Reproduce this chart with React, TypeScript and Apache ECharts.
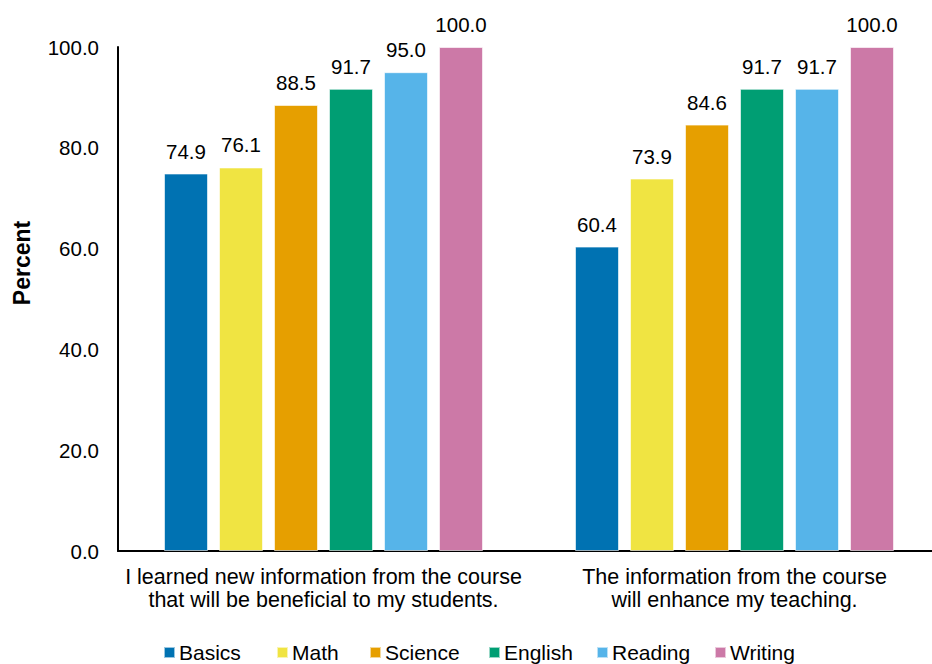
import React, { useEffect, useRef } from "react";
import * as echarts from "echarts";

const categories = [
  "I learned new information from the course\nthat will be beneficial to my students.",
  "The information from the course\nwill enhance my teaching.",
];
const seriesNames = ["Basics", "Math", "Science", "English", "Reading", "Writing"];
const basics = [74.9, 60.4];
const math = [76.1, 73.9];
const science = [88.5, 84.6];
const english = [91.7, 91.7];
const reading = [95.0, 91.7];
const writing = [100.0, 100.0];
const colors = ["#0072B2", "#F0E442", "#E69F00", "#009E73", "#56B4E9", "#CC79A7"];
const yTicks = { min: 0, max: 100, interval: 20 };
const legendLefts = [163, 276, 369, 488, 596, 714];

export default function App() {
  const ref = useRef<HTMLDivElement>(null);
  useEffect(() => {
    if (!ref.current) return;
    const chart = echarts.init(ref.current, undefined, { renderer: "svg" });
    const values = [basics, math, science, english, reading, writing];
    const font = "Arial, 'Liberation Sans', sans-serif";
    chart.setOption({
      animation: false,
      textStyle: { fontFamily: font },
      grid: { left: 118, top: 47, width: 822, height: 504, containLabel: false },
      legend: seriesNames.map((name, i) => ({
        data: [name],
        left: legendLefts[i],
        top: 642,
        padding: 0,
        itemWidth: 11,
        itemHeight: 11,
        itemGap: 0,
        icon: "rect",
        textStyle: { fontSize: 21, color: "#000", fontFamily: font, padding: [0, 0, 0, -1] },
      })),
      xAxis: {
        type: "category",
        data: categories,
        axisLine: { lineStyle: { color: "#000", width: 2 } },
        axisTick: { show: false },
        axisLabel: {
          color: "#000",
          fontSize: 21.5,
          lineHeight: 23,
          margin: 14,
          fontFamily: font,
          interval: 0,
        },
      },
      yAxis: {
        type: "value",
        min: yTicks.min,
        max: yTicks.max,
        interval: yTicks.interval,
        axisLine: { show: true, lineStyle: { color: "#000", width: 2 } },
        axisTick: { show: false },
        splitLine: { show: false },
        axisLabel: {
          color: "#000",
          fontSize: 20.5,
          margin: 19,
          fontFamily: font,
          formatter: (v: number) => v.toFixed(1),
        },
      },
      graphic: [
        {
          type: "text",
          x: 22,
          y: 263,
          rotation: Math.PI / 2,
          style: {
            text: "Percent",
            fontSize: 23,
            fontWeight: "bold",
            fill: "#000",
            fontFamily: font,
            align: "center",
            verticalAlign: "middle",
          },
        },
      ],
      series: seriesNames.map((name, i) => ({
        name,
        type: "bar",
        data: values[i],
        barWidth: 44,
        barGap: "25%",
        itemStyle: { color: colors[i], borderColor: "rgba(255,255,255,0.6)", borderWidth: 1 },
        label: {
          show: true,
          position: "top",
          distance: 12,
          color: "#000",
          fontSize: 20.5,
          fontFamily: font,
          formatter: (p: any) => Number(p.value).toFixed(1),
        },
      })),
    });
    return () => chart.dispose();
  }, []);
  return (
    <div
      style={{ position: "fixed", left: 0, top: 0, width: 932, height: 664, overflow: "hidden", background: "#fff" }}
    >
      <div ref={ref} style={{ width: 940, height: 664 }} />
    </div>
  );
}
